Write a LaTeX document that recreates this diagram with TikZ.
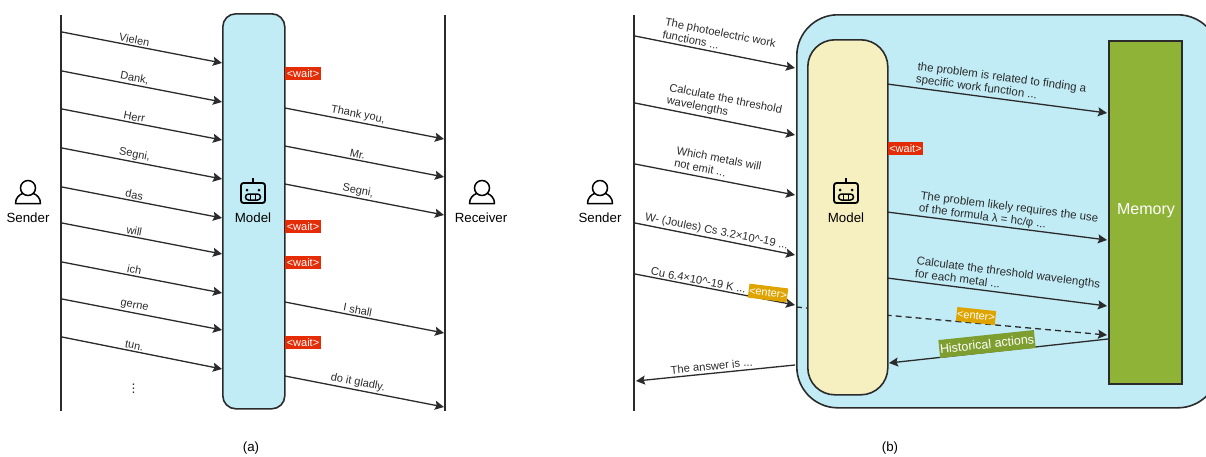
\documentclass[tikz,border=0pt]{standalone}
\usepackage{fontspec}
\setmainfont{Liberation Sans}
\usepackage{xcolor}
\usepackage{tikz}
\usetikzlibrary{positioning,arrows.meta}
\definecolor{inkgray}{HTML}{2B2B2B}
\definecolor{skyfill}{HTML}{C1ECF6}
\definecolor{creamfill}{HTML}{F6EFC0}
\definecolor{memfill}{HTML}{8FB336}
\definecolor{waitred}{HTML}{E42C06}
\definecolor{enteramber}{HTML}{DFA400}
\definecolor{histgreen}{HTML}{7E9F2F}
\tikzset{
	x=1pt, y=-1pt,
	msg/.style={-{Stealth[length=9pt,width=9pt,inset=1.5pt]}, draw=inkgray, line width=1.3pt},
	lifeline/.style={draw=inkgray, line width=2.8pt},
	box/.style={rectangle, draw=inkgray, line width=1.6pt, inner sep=0pt, anchor=north west},
	lbl/.style={font=\fontsize{11}{12.5}\selectfont, text=inkgray, inner sep=1.5pt, sloped, above, align=left},
	lblq/.style={lbl, font=\fontsize{11.2}{12.8}\selectfont, inner sep=2.5pt},
	lblth/.style={lbl, font=\fontsize{11.5}{12.8}\selectfont, inner sep=2.5pt},
	actor/.style={font=\fontsize{13.3}{15}\selectfont, text=black, inner sep=0pt},
	tagnode/.style={font=\fontsize{11}{12}\selectfont, text=white, inner sep=0pt, minimum height=13pt},
	pics/person/.style={code={
		\draw[line width=1.5pt, black] (0,0) circle (7.5);
		\draw[line width=1.5pt, black, line join=round] (-5.5,5.5) .. controls (-9,7) and (-12.5,10) .. (-12.5,15.5) -- (12.5,15.5) .. controls (12.5,10) and (9,7) .. (5.5,5.5);
	}},
	pics/robot/.style={code={
		\draw[line width=1.8pt, black, rounded corners=2.5pt] (-12,-10) rectangle (12,10);
		\draw[line width=1.4pt, black] (0,-10) -- (0,-15.5);
		\fill[black] (-6,-3) circle (1.5) (6,-3) circle (1.5);
		\draw[line width=1.5pt, black, rounded corners=3pt] (-7.5,1) rectangle (7.5,7);
		\draw[line width=1.2pt, black] (-2.5,1) -- (-2.5,7) (2.5,1) -- (2.5,7);
	}}
}

\begin{document}
\begin{tikzpicture}
	\path[use as bounding box, clip] (0,0) rectangle (1206,456);

	%Nodes (a)
	\node[box, fill=skyfill, rounded corners=13pt, minimum width=62pt, minimum height=395pt] (modelA) at (222,13) {};
	\pic at (28,188) {person};
	\pic at (253,193) {robot};
	\pic at (482,188) {person};
	\node[actor] (senderA) at (28,218) {Sender};
	\node[actor] (modelAname) at (253,218) {Model};
	\node[actor] (receiverA) at (481,218) {Receiver};
	\node[actor] (capA) at (251,448) {(a)};
	\node[font=\fontsize{14}{15}\selectfont, text=inkgray, inner sep=0pt] (dotsA) at (133.5,386) {$\vdots$};
	\foreach \n/\y in {1/73.5,2/226.5,3/262.5,4/342.5}
		\node[tagnode, fill=waitred, minimum width=36pt] (waitA\n) at (303,\y) {<wait>};

	%Lines (a)
	\coordinate (senderAtop) at (61,15);
	\coordinate (senderAend) at (61,411);
	\coordinate (receiverAtop) at (445,15);
	\coordinate (receiverAend) at (445,411);
	\draw[lifeline] (senderAtop) -- (senderAend);
	\draw[lifeline] (receiverAtop) -- (receiverAend);
	\foreach \n/\ya/\yb/\txt in {1/32/63/Vielen,2/71/102/{Dank,},3/109/140/Herr,4/148/179/{Segni,},5/187/218/das,6/223/254/will,7/262/293/ich,8/299/330/gerne,9/337/369/tun.}{
		\coordinate (inA\n) at (62,\ya);
		\coordinate (inB\n) at (222,\yb);
		\draw[msg] (inA\n) -- node[lbl, pos=.445] {\txt} (inB\n);
	}
	\foreach \n/\ya/\yb/\txt in {1/108/139/{Thank you,},2/146/177/Mr.,3/184/215/{Segni,},4/302/333/I shall,5/376/407/do it gladly.}{
		\coordinate (outA\n) at (285,\ya);
		\coordinate (outB\n) at (444,\yb);
		\draw[msg] (outA\n) -- node[lbl, pos=.45] {\txt} (outB\n);
	}

	%Nodes (b)
	\node[box, fill=skyfill, rounded corners=41pt, minimum width=422pt, minimum height=393pt] (agentB) at (796,14) {};
	\coordinate (dashA) at (796,307);
	\coordinate (dashB) at (1107,335);
	\draw[msg, dashed, dash pattern=on 6pt off 4pt] (dashA) -- (dashB);
	\node[box, fill=creamfill, rounded corners=27pt, minimum width=80pt, minimum height=355pt] (modelB) at (807,39) {};
	\node[box, fill=memfill, minimum width=73pt, minimum height=343pt] (memoryB) at (1108,40) {};
	\node[font=\fontsize{16}{18}\selectfont, text=white, inner sep=0pt] (memoryname) at (1146,211) {Memory};
	\pic at (600,188) {person};
	\pic at (846,193) {robot};
	\node[actor] (senderB) at (600,218) {Sender};
	\node[actor] (modelBname) at (846,218) {Model};
	\node[actor] (capB) at (890,448) {(b)};
	\node[tagnode, fill=waitred, minimum width=35pt] (waitB) at (905.5,148.5) {<wait>};

	%Lines (b)
	\coordinate (senderBtop) at (634,15);
	\coordinate (senderBend) at (634,411);
	\draw[lifeline] (senderBtop) -- (senderBend);
	\foreach \n/\ya/\yb/\p/\s/\txt in {1/36/68/.51/2.5pt/{The photoelectric work\\functions ...},2/103/135/.54/2.5pt/{Calculate the threshold\\wavelengths},3/164/195/.5/4pt/{Which metals will\\not emit ...},4/223/255/.5/1.5pt/{W- (Joules) Cs 3.2×10\^{}-19 ...},5/274/305/.39/1.5pt/{Cu 6.4×10\^{}-19 K ...}}{
		\coordinate (qA\n) at (635,\ya);
		\coordinate (qB\n) at (795,\yb);
		\draw[msg] (qA\n) -- node[lblq, pos=\p, inner sep=\s] {\txt} (qB\n);
	}
	\foreach \n/\ya/\yb/\p/\s/\txt in {1/84/113/.51/2pt/{the problem is related to finding a\\specific work function ...},2/212/240/.545/1pt/{The problem likely requires the use\\of the formula λ = hc/φ ...},3/278/306/.54/3.5pt/{Calculate the threshold wavelengths\\for each metal ...}}{
		\coordinate (thA\n) at (887,\ya);
		\coordinate (thB\n) at (1107,\yb);
		\draw[msg] (thA\n) -- node[lblth, pos=\p, inner sep=\s] {\txt} (thB\n);
	}
	\coordinate (ansA) at (795,365);
	\coordinate (ansB) at (636,381);
	\draw[msg] (ansA) -- node[lblq, pos=.52] {The answer is ...} (ansB);
	\coordinate (histA) at (1108,339);
	\coordinate (histB) at (889,363);
	\draw[msg] (histA) -- (histB);
	\node[tagnode, fill=enteramber, minimum width=39pt, minimum height=14pt, rotate=-7] (enterB1) at (768,293) {<enter>};
	\node[tagnode, fill=enteramber, minimum width=39pt, minimum height=14pt, rotate=-6] (enterB2) at (976,316) {<enter>};
	\node[tagnode, fill=histgreen, font=\fontsize{12.5}{14}\selectfont, minimum width=96pt, minimum height=18pt, rotate=6] (histtag) at (987,344) {Historical actions};
\end{tikzpicture}
\end{document}
